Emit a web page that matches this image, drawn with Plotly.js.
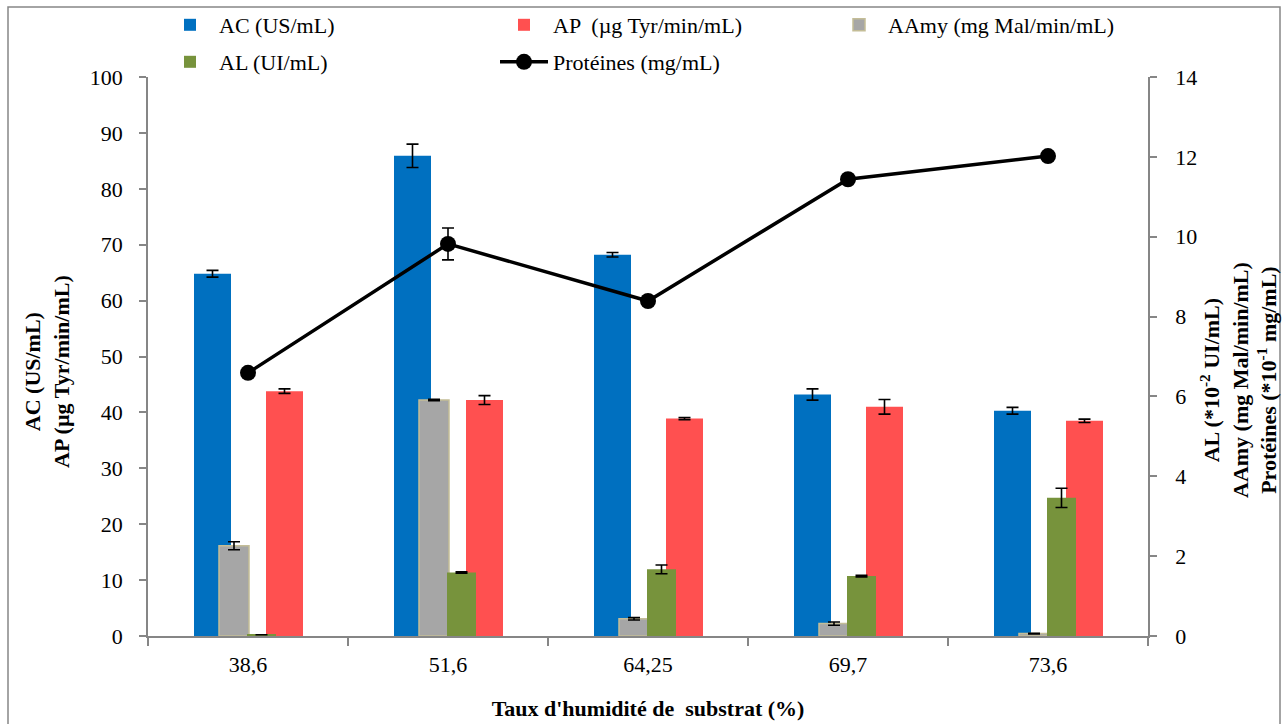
<!DOCTYPE html>
<html>
<head>
<meta charset="utf-8">
<script src="https://cdn.plot.ly/plotly-3.0.1.min.js"></script>
<style>html,body{margin:0;padding:0;background:#fff;}#chart{width:1285px;height:724px;}</style>
</head>
<body>
<div id="chart"></div>
<script>
// ---- data ----
const categories = ['38,6', '51,6', '64,25', '69,7', '73,6'];
const acValues   = [64.8, 85.9, 68.2, 43.2, 40.3];
const acErrors   = [0.6, 2.1, 0.4, 1.0, 0.6];
const apValues   = [43.8, 42.2, 38.9, 41.0, 38.5];
const apErrors   = [0.4, 0.8, 0.2, 1.3, 0.3];
const aamyValues = [2.26, 5.91, 0.43, 0.31, 0.06];
const aamyErrors = [0.1, 0.02, 0.03, 0.04, 0.01];
const alValues   = [0.03, 1.59, 1.67, 1.50, 3.46];
const alErrors   = [0, 0.02, 0.11, 0.02, 0.24];
const protValues = [6.59, 9.82, 8.39, 11.44, 12.02];
const protErrors = [0.1, 0.4, 0.1, 0.1, 0.1];

const leftTicks  = [0, 10, 20, 30, 40, 50, 60, 70, 80, 90, 100];
const rightTicks = [0, 2, 4, 6, 8, 10, 12, 14];

// ---- layout helpers ----
const W = 1285, H = 724;
const M = {l: 148, r: 137, t: 77, b: 88, autoexpand: false};
const PW = W - M.l - M.r, PH = H - M.t - M.b;
const px = x => (x - M.l) / PW;
const py = y => (H - M.b - y) / PH;

const FONT = '"Liberation Serif", "DejaVu Serif", serif';
const AXIS = '#868686';

function err(arr) {
  return {type: 'data', array: arr, visible: true, color: '#000', thickness: 1.6, width: 6};
}

const traces = [
  {type: 'bar', name: 'AC (US/mL)', x: categories, y: acValues, yaxis: 'y',
   offset: -0.27, width: 0.185, marker: {color: '#0070C0', line: {width: 0}},
   error_y: err(acErrors), legend: 'legend'},
  {type: 'bar', name: 'AP \u00A0(µg Tyr/min/mL)', x: categories, y: apValues, yaxis: 'y',
   offset: 0.09, width: 0.185, marker: {color: '#FF5050', line: {width: 0}},
   error_y: err(apErrors), legend: 'legend2'},
  {type: 'bar', name: 'AAmy (mg Mal/min/mL)', x: categories, y: aamyValues, yaxis: 'y2',
   offset: -0.145, width: 0.15, marker: {color: '#A6A6A6', line: {color: '#C4BD97', width: 1.5}},
   error_y: err(aamyErrors), legend: 'legend3'},
  {type: 'bar', name: 'AL (UI/mL)', x: categories, y: alValues, yaxis: 'y2',
   offset: -0.005, width: 0.145, marker: {color: '#77933C', line: {width: 0}},
   error_y: err(alErrors), legend: 'legend4'},
  {type: 'scatter', mode: 'lines+markers', name: 'Protéines (mg/mL)', x: categories, y: protValues,
   yaxis: 'y2', line: {color: '#000', width: 3.5}, marker: {color: '#000', size: 16, symbol: 'circle'},
   error_y: err(protErrors), legend: 'legend5'}
];

function leg(textStartPx, rowCenterPx) {
  return {x: px(textStartPx - 58), y: py(rowCenterPx), xanchor: 'left', yanchor: 'middle',
          xref: 'paper', yref: 'paper', orientation: 'v', itemwidth: 48,
          bgcolor: 'rgba(0,0,0,0)', borderwidth: 0,
          font: {family: FONT, size: 22, color: '#000'}};
}

const layout = {
  width: W, height: H,
  margin: M,
  paper_bgcolor: '#fff', plot_bgcolor: '#fff',
  barmode: 'overlay',
  showlegend: true,
  font: {family: FONT, size: 22, color: '#000'},
  xaxis: {
    type: 'category', range: [-0.5, 4.5],
    showline: true, linecolor: AXIS, linewidth: 1.5,
    ticks: 'outside', tickson: 'boundaries', ticklen: 8, tickcolor: AXIS, tickwidth: 1.5,
    ticklabelstandoff: 8,
    showgrid: false, zeroline: false,
    tickfont: {family: FONT, size: 22, color: '#000'},
    title: {text: 'Taux d\'humidité de\u00A0 substrat (%)', standoff: 24,
            font: {family: FONT, size: 22, color: '#000', weight: 'bold'}}
  },
  yaxis: {
    range: [0, 100], tickvals: leftTicks, ticktext: leftTicks.map(String),
    showline: true, linecolor: AXIS, linewidth: 1.5,
    ticks: 'outside', ticklen: 7, tickcolor: AXIS, tickwidth: 1.5,
    ticklabelstandoff: 12,
    showgrid: false, zeroline: false,
    tickfont: {family: FONT, size: 22, color: '#000'}
  },
  yaxis2: {
    range: [0, 14], tickvals: rightTicks, ticktext: rightTicks.map(String),
    overlaying: 'y', side: 'right',
    showline: true, linecolor: AXIS, linewidth: 1.5,
    ticks: 'outside', ticklen: 7, tickcolor: AXIS, tickwidth: 1.5,
    ticklabelstandoff: 14,
    showgrid: false, zeroline: false,
    tickfont: {family: FONT, size: 22, color: '#000'}
  },
  legend:  leg(219, 25),
  legend2: leg(553, 25),
  legend3: leg(888, 25),
  legend4: leg(219, 62),
  legend5: leg(553, 62),
  annotations: [
    {xref: 'paper', yref: 'paper', x: px(47), y: py(372), xanchor: 'center', yanchor: 'middle',
     textangle: -90, showarrow: false,
     text: 'AC (US/mL)<br>AP (µg Tyr/min/mL)',
     font: {family: FONT, size: 22, color: '#000', weight: 'bold'}},
    {xref: 'paper', yref: 'paper', x: px(1238), y: py(380), xanchor: 'center', yanchor: 'middle',
     textangle: -90, showarrow: false,
     text: 'AL (*10<sup>-2</sup> UI/mL)<br>AAmy (mg Mal/min/mL)<br>Protéines (*10<sup>-1</sup> mg/mL)',
     font: {family: FONT, size: 22, color: '#000', weight: 'bold'}}
  ],
  shapes: [
    {type: 'rect', xref: 'paper', yref: 'paper', x0: px(8), x1: px(1280), y0: py(730), y1: py(7),
     line: {color: AXIS, width: 1.5}, fillcolor: 'rgba(0,0,0,0)', layer: 'below'}
  ]
};

Plotly.newPlot('chart', traces, layout, {displayModeBar: false, responsive: false});
</script>
</body>
</html>
